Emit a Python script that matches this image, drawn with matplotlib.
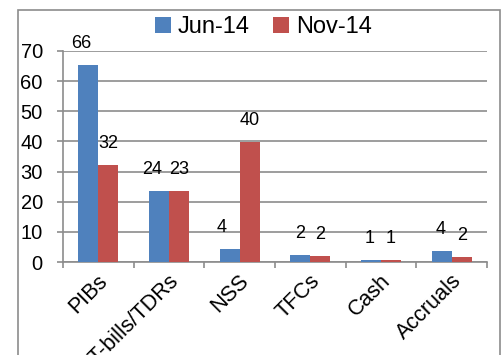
import numpy as np
import matplotlib
matplotlib.use("Agg")
import matplotlib.pyplot as plt
from matplotlib.patches import Rectangle
from matplotlib.transforms import ScaledTranslation

plt.rcParams["font.family"] = ["Liberation Sans", "DejaVu Sans"]

categories = ["PIBs", "T-bills/TDRs", "NSS", "TFCs", "Cash", "Accruals"]
jun_14 = [65.5, 23.6, 4.2, 2.4, 0.6, 3.5]
nov_14 = [32.1, 23.4, 39.9, 2.1, 0.55, 1.8]
series_labels = ["Jun-14", "Nov-14"]
y_ticks = [0, 10, 20, 30, 40, 50, 60, 70]

blue = "#4F81BD"
red = "#C0504D"
grid_gray = "#8C8C8C"

fig = plt.figure(figsize=(5.02, 3.55), dpi=100)
ax = fig.add_axes([63 / 502, 1 - 262 / 355, (487 - 63) / 502, (262 - 51) / 355])

# chart area border (bottom runs off the picture)
fig.patches.append(Rectangle((18 / 502, -0.2), (500 - 18) / 502, 1.2 - 10 / 355,
                             transform=fig.transFigure, fill=False,
                             edgecolor=grid_gray, linewidth=1.2, zorder=0))

x = np.arange(len(categories))
w = 0.283
bars1 = ax.bar(x - w / 2, jun_14, w, color=blue, label=series_labels[0], zorder=3)
bars2 = ax.bar(x + w / 2, nov_14, w, color=red, label=series_labels[1], zorder=3)

# Jun labels sit a bit left of their bars on the bigger ones
jun_nudge = [-5, -5, -5.5, 0, -1, -0.5]
for bars, nudges in ((bars1, jun_nudge), (bars2, [0] * len(categories))):
    for b, dx in zip(bars, nudges):
        ax.annotate(f"{b.get_height():.0f}", (b.get_x() + b.get_width() / 2, b.get_height()),
                    xytext=(dx, 15.5), textcoords="offset points",
                    ha="center", va="center", fontsize=13, annotation_clip=False)

ax.set_xlim(-0.5, len(categories) - 0.5)
ax.set_ylim(0, 70)
ax.set_yticks(y_ticks)
ax.tick_params(axis="y", labelsize=14.5, length=4.5, color=grid_gray, width=1.2, pad=10)
ax.yaxis.grid(True, color=grid_gray, linewidth=1.2, zorder=0)
ax.set_axisbelow(True)

# category boundary ticks, labels at centres
ax.set_xticks(np.arange(len(categories) + 1) - 0.5)
ax.set_xticklabels([])
ax.tick_params(axis="x", which="major", length=4, color=grid_gray, width=1.2)
ax.set_xticks(x, minor=True)
ax.set_xticklabels(categories, minor=True, rotation=45, ha="right",
                   rotation_mode="anchor", fontsize=15.5)
ax.tick_params(axis="x", which="minor", length=0, pad=6)
shift = ScaledTranslation(-0.01, 0, fig.dpi_scale_trans)
for lbl in ax.get_xticklabels(minor=True):
    lbl.set_transform(lbl.get_transform() + shift)

for s in ("top", "right"):
    ax.spines[s].set_visible(False)
for s in ("left", "bottom"):
    ax.spines[s].set_color(grid_gray)
    ax.spines[s].set_linewidth(1.2)

fig.legend(loc="center", bbox_to_anchor=(0.525, 0.924), ncol=2, frameon=False,
           fontsize=17, handlelength=0.65, handleheight=0.65, handletextpad=0.3,
           columnspacing=1.0)

fig.savefig("out.png", dpi=100)
